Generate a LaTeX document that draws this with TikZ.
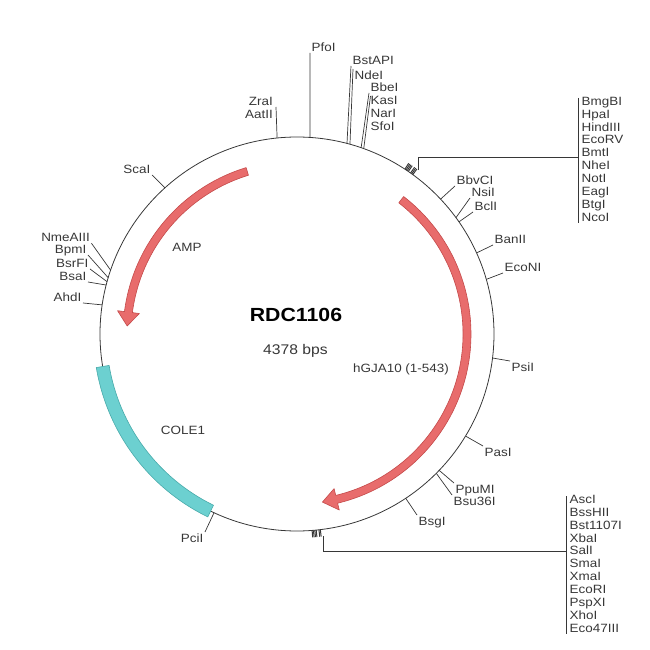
\documentclass[tikz,border=0pt]{standalone}
\usepackage{fontspec}
\setmainfont{Liberation Sans}[FakeStretch=1.12]
\usepackage{xcolor}

\definecolor{ampred}{RGB}{232,108,108}
\definecolor{ampedge}{RGB}{196,74,74}
\definecolor{oriteal}{RGB}{108,208,208}
\definecolor{oriedge}{RGB}{72,170,170}
\definecolor{mapgray}{RGB}{55,55,55}

\begin{document}
\begin{tikzpicture}[x=1pt, y=1pt,
	backbone/.style={draw=mapgray, line width=0.8pt},
	tick/.style={draw=mapgray, line width=0.7pt},
	site/.style={inner sep=1.5pt, text height=8.6pt, text depth=0pt, text=mapgray, font=\fontsize{12}{13}\selectfont},
	featlabel/.style={text=mapgray, font=\fontsize{12}{13}\selectfont}]
	\useasboundingbox (-297,-316) rectangle (353,334);

	% backbone
	\draw[backbone] (0,0) circle[radius=197];

	% features
	\draw[fill=ampred, draw=ampedge, line width=0.6pt, line join=round]
		(107:166) arc[start angle=107, end angle=172.6, radius=166]
		-- (172.6:159) -- (177.3:170) -- (172.6:181) -- (172.6:174)
		arc[start angle=172.6, end angle=107, radius=174] -- cycle;
	\draw[fill=ampred, draw=ampedge, line width=0.6pt, line join=round]
		(52.2:174) arc[start angle=52.2, end angle=-76.5, radius=174]
		-- (-76.5:181) -- (-81.4:170) -- (-76.5:159) -- (-76.5:166)
		arc[start angle=-76.5, end angle=52.2, radius=166] -- cycle;
	\draw[fill=oriteal, draw=oriedge, line width=0.6pt]
		(189.5:190.5) arc[start angle=189.5, end angle=244, radius=190.5]
		-- (244:203.5) arc[start angle=244, end angle=189.5, radius=203.5] -- cycle;

	\node[featlabel] (AMP) at (-110,87) {AMP};
	\node[featlabel] (COLE1) at (-114,-96) {COLE1};
	\node[featlabel] (hGJA10) at (104,-35) {hGJA10 (1-543)};

	\node[font=\bfseries\fontsize{19}{20}\selectfont] (title) at (-1,19) {RDC1106};
	\node[font=\fontsize{14}{15}\selectfont, text=mapgray] (size) at (-1.5,-17) {4378 bps};

	% single sites: name/angle/label x/label y/anchor
	\foreach \nm/\ang/\px/\py/\anc in {
		ScaI/132.1/-145/159/south east, NmeAIII/161.1/-205.5/90.7/south east,
		BpmI/163.4/-209/79/south east, BsrFI/164.6/-207/65/south east,
		BsaI/165.6/-209/52/south east, AhdI/171.5/-214/31/south east,
		PciI/245.1/-92/-198/north east, BsgI/-56.5/120/-181/north west,
		Bsu36I/-45.0/155/-161/north west, PpuMI/-43.8/157/-149/north west,
		PasI/-31.2/186/-112/north west, PsiI/-7.0/213/-27/north west,
		EcoNI/16.1/206/61/south west, BanII/24.3/196/89/south west,
		BclI/34.7/176/122/south west, NsiI/36.2/173/136/south west,
		BbvCI/43.2/158/148/south west, PfoI/86.2/13/281/south west,
		BstAPI/75.3/54/268/south west, NdeI/74.4/56/265/north west} {
		\coordinate (t-\nm) at (\ang:197);
		\node[site, anchor=\anc] (l-\nm) at (\px,\py) {\nm};
		\draw[tick] (t-\nm) -- (l-\nm.\anc);
	}

	% top stacks
	\node[site, anchor=east] (l-ZraI) at (-22.5,233) {ZraI};
	\node[site, anchor=east] (l-AatII) at (-22.5,220) {AatII};
	\coordinate (t-ZraI) at (95.8:197);
	\draw[tick] (t-ZraI) -- ([xshift=1.5pt]l-ZraI.south east);

	\foreach \nm [count=\i] in {BbeI,KasI,NarI,SfoI}
		\node[site, anchor=west] (l-\nm) at (72,{247-13*(\i-1)}) {\nm};
	\coordinate (t-BbeI) at (71.0:197);
	\coordinate (t-KasI) at (70.2:197);
	\draw[tick] (t-BbeI) -- (l-BbeI.south west);
	\draw[tick] (t-KasI) -- ([xshift=1.5pt,yshift=-3pt]l-BbeI.south west);

	% right cluster
	\foreach \a in {56.8,56.4,56.0,55.6,54.8,54.4,54.0}
		\draw[tick, line width=1pt] (\a:197) -- (\a:204);
	\coordinate (c-right) at (53.5:204);
	\coordinate (j-right) at (281.5,177);
	\draw[tick] (c-right) |- (j-right);
	\foreach \nm [count=\i] in {BmgBI,HpaI,HindIII,EcoRV,BmtI,NheI,NotI,EagI,BtgI,NcoI}
		\node[site, anchor=west] (l-\nm) at (283,{233-12.9*(\i-1)}) {\nm};
	\draw[tick] ([yshift=-3pt]l-BmgBI.north west -| j-right) -- (l-NcoI.south west -| j-right);

	% bottom cluster
	\foreach \a in {-85.6,-85.2,-84.8,-84.4,-83.6,-83.2}
		\draw[tick, line width=1pt] (\a:197) -- (\a:204);
	\coordinate (c-bottom) at (-82.7:204);
	\coordinate (j-bottom) at (269.5,-217);
	\draw[tick] (c-bottom) |- (j-bottom);
	\foreach \nm [count=\i] in {AscI,BssHII,Bst1107I,XbaI,SalI,SmaI,XmaI,EcoRI,PspXI,XhoI,Eco47III}
		\node[site, anchor=west] (l-\nm) at (271,{-165-12.9*(\i-1)}) {\nm};
	\draw[tick] ([yshift=-3pt]l-AscI.north west -| j-bottom) -- (l-Eco47III.south west -| j-bottom);
\end{tikzpicture}
\end{document}
